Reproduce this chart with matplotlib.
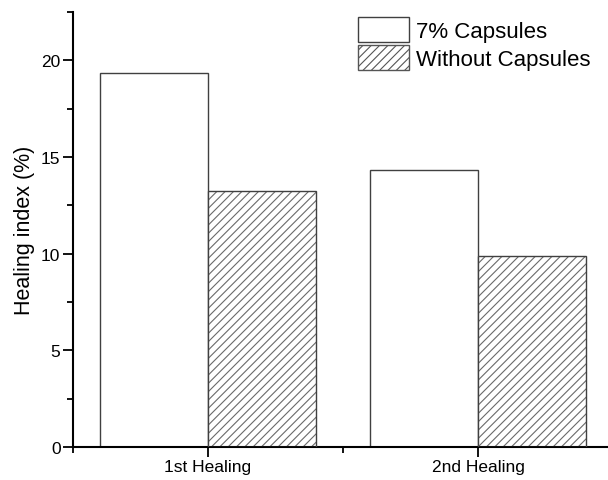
import matplotlib
matplotlib.use("Agg")
import matplotlib.pyplot as plt
from matplotlib.ticker import MultipleLocator
from matplotlib.patches import Patch

categories = ["1st Healing", "2nd Healing"]
with_caps = [19.35, 14.35]
without_caps = [13.25, 9.9]
series_labels = ["7% Capsules", "Without Capsules"]

plt.rcParams['font.family'] = ['Liberation Sans', 'DejaVu Sans']
plt.rcParams['hatch.linewidth'] = 0.8

fig = plt.figure(figsize=(6.08, 4.81), dpi=100)
ax = fig.add_axes([73/608, 33/481, 540/608, 435/481])

x = [1, 2]
w = 0.4
xa = [v - w/2 for v in x]
xb = [v + w/2 for v in x]
edge = '#404040'
ax.bar(xa, with_caps, width=w, color='white', edgecolor=edge, linewidth=1.0, zorder=2)
ax.bar(xb, without_caps, width=w, color='white', edgecolor='#6a6a6a', hatch='////', linewidth=0, zorder=2)
ax.bar(xb, without_caps, width=w, fill=False, edgecolor=edge, linewidth=1.0, zorder=3)

ax.set_xlim(0.5, 2.5)
ax.set_ylim(0, 22.5)
ax.set_xticks(x)
ax.set_xticklabels(categories)
ax.xaxis.set_minor_locator(MultipleLocator(0.5))
ax.yaxis.set_major_locator(MultipleLocator(5))
ax.yaxis.set_minor_locator(MultipleLocator(2.5))
ax.tick_params(axis='both', which='major', length=7, width=1.3, direction='out', labelsize=12.5, pad=2)
ax.tick_params(axis='both', which='minor', length=4, width=1.3, direction='out')
for s in ['top', 'right']:
    ax.spines[s].set_visible(False)
for s in ['left', 'bottom']:
    ax.spines[s].set_linewidth(1.5)
ax.set_ylabel("Healing index (%)", fontsize=15.5)
ax.yaxis.set_label_coords(-0.07, 0.5)

handles = [Patch(facecolor='white', edgecolor=edge, linewidth=1.0),
           Patch(facecolor='white', edgecolor='#555555', hatch='////', linewidth=1.0)]
leg = ax.legend(handles, series_labels, loc='upper left',
                bbox_to_anchor=(358/608, 1 - 18/481), bbox_transform=fig.transFigure,
                frameon=False, fontsize=16, handlelength=2.3, handleheight=1.35,
                handletextpad=0.3, labelspacing=0.15, borderaxespad=0.0, borderpad=0.0)

fig.savefig("out.png", dpi=100)
